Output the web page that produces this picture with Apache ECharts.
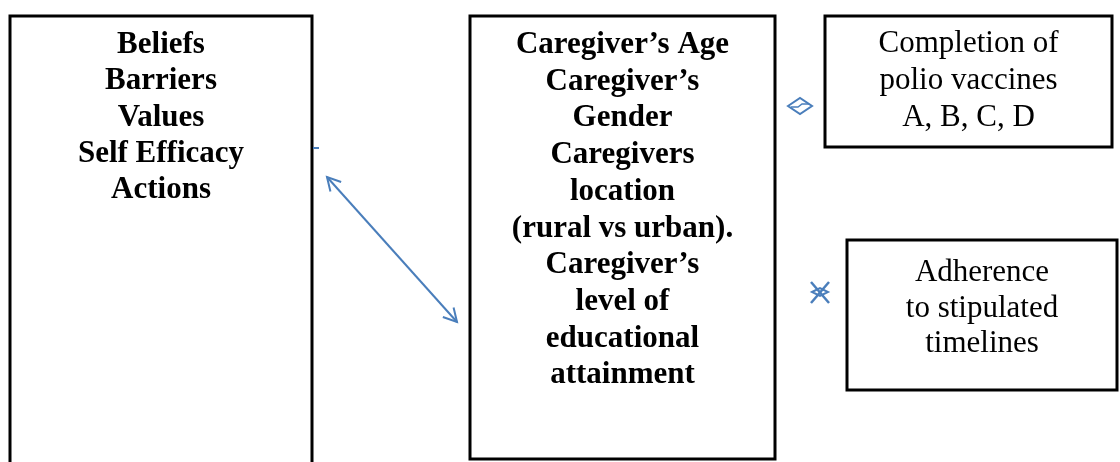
<!DOCTYPE html>
<html>
<head>
<meta charset="utf-8">
<script src="https://cdn.jsdelivr.net/npm/echarts@6/dist/echarts.min.js"></script>
<style>
  html, body { margin: 0; padding: 0; background: #fff; }
  #chart { width: 1120px; height: 462px; }
</style>
</head>
<body>
<div id="chart"></div>
<script>
// text of each box, top to bottom
const constructLines = ['Beliefs', 'Barriers', 'Values', 'Self Efficacy', 'Actions'];
const caregiverLines = ['Caregiver\u2019s Age', 'Caregiver\u2019s', 'Gender', 'Caregivers', 'location',
    '(rural vs urban).', 'Caregiver\u2019s', 'level of', 'educational', 'attainment'];
const completionLines = ['Completion of', 'polio vaccines', 'A, B, C, D'];
const adherenceLines = ['Adherence', 'to stipulated', 'timelines'];

const blue = '#4a7ebb';
const serif = '"Liberation Serif", "Times New Roman", serif';

// box layout: [left, top, right, bottom], first line centre, line height, bold
const boxes = [
    { lines: constructLines, rect: [10, 16, 312, 520], first: 45, lh: 36.3, bold: true },
    { lines: caregiverLines, rect: [470, 16, 775, 459], first: 45, lh: 36.7, bold: true },
    { lines: completionLines, rect: [825, 16, 1112, 147], first: 44, lh: 37, bold: false },
    { lines: adherenceLines, rect: [847, 240, 1117, 390], first: 273, lh: 35.5, bold: false }
];

let elements = [];

boxes.forEach(box => {
    let r = box.rect;
    elements.push({
        type: 'rect',
        shape: { x: r[0], y: r[1], width: r[2] - r[0], height: r[3] - r[1] },
        style: { fill: null, stroke: '#000', lineWidth: 3 }
    });
    elements.push({
        type: 'text',
        x: (r[0] + r[2]) / 2,
        y: box.first - box.lh / 2,
        style: {
            text: box.lines.join('\n'),
            font: (box.bold ? 'bold ' : '') + '31px ' + serif,
            fill: '#000',
            align: 'center',
            verticalAlign: 'top',
            lineHeight: box.lh
        }
    });
});

// double headed arrow between the first two boxes
function arrowHead(tip, from, len, spread) {
    let ang = Math.atan2(from[1] - tip[1], from[0] - tip[0]);
    return [
        [tip[0] + len * Math.cos(ang + spread), tip[1] + len * Math.sin(ang + spread)],
        tip,
        [tip[0] + len * Math.cos(ang - spread), tip[1] + len * Math.sin(ang - spread)]
    ];
}
let a = [327, 177], b = [457, 322];
elements.push({ type: 'polyline', shape: { points: [a, b] }, style: { stroke: blue, lineWidth: 2, fill: null } });
elements.push({ type: 'polyline', shape: { points: arrowHead(a, b, 15, 0.5) }, style: { stroke: blue, lineWidth: 2, fill: null } });
elements.push({ type: 'polyline', shape: { points: arrowHead(b, a, 15, 0.5) }, style: { stroke: blue, lineWidth: 2, fill: null } });

// little stray tick next to the first box
elements.push({ type: 'line', shape: { x1: 313, y1: 148, x2: 319, y2: 148 }, style: { stroke: blue, lineWidth: 2 } });

// diamond glyph before the completion box
elements.push({
    type: 'polygon',
    shape: { points: [[788, 106], [800, 98], [812, 106], [800, 114]] },
    style: { fill: null, stroke: blue, lineWidth: 2 }
});
elements.push({
    type: 'polyline',
    shape: { points: [[791, 107], [798, 107], [802, 104], [809, 104]] },
    style: { fill: null, stroke: blue, lineWidth: 1.5 }
});

// crossed glyph before the adherence box
elements.push({ type: 'line', shape: { x1: 811, y1: 282, x2: 829, y2: 303 }, style: { stroke: blue, lineWidth: 2.5 } });
elements.push({ type: 'line', shape: { x1: 829, y1: 282, x2: 811, y2: 303 }, style: { stroke: blue, lineWidth: 2.5 } });
elements.push({
    type: 'polygon',
    shape: { points: [[812, 292], [820, 288], [828, 292], [820, 296]] },
    style: { fill: null, stroke: blue, lineWidth: 2 }
});

const chart = echarts.init(document.getElementById('chart'));
chart.setOption({
    backgroundColor: '#fff',
    animation: false,
    graphic: { elements: elements }
});
</script>
</body>
</html>
